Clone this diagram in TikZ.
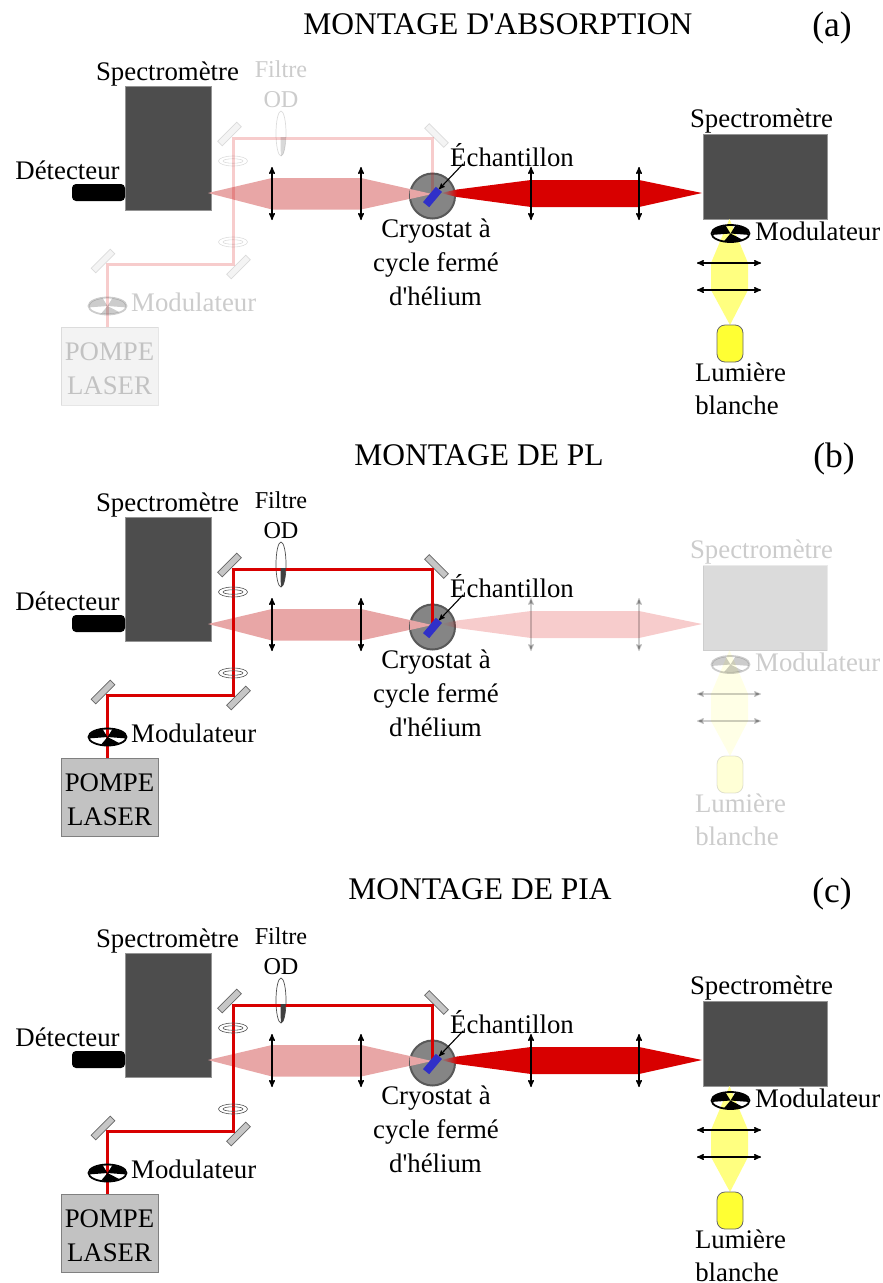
\documentclass[tikz,border=0pt]{standalone}
\usepackage{fontspec}
\newfontfamily\texte{Liberation Serif}
\usetikzlibrary{arrows,shapes.geometric}

\definecolor{spectro}{HTML}{4D4D4D}
\definecolor{pompe}{HTML}{C2C2C2}
\definecolor{rougelaser}{HTML}{D80000}
\definecolor{rosepl}{HTML}{E8A6A6}
\definecolor{jaunefaisceau}{HTML}{FFFF80}
\definecolor{jaunelampe}{HTML}{FFFF33}
\definecolor{gris}{HTML}{858585}
\definecolor{echantillon}{HTML}{3030C8}

\tikzset{
  label/.style={font=\texte\fontsize{26.8}{30}\selectfont, inner sep=0pt, anchor=base},
  petit/.style={font=\texte\fontsize{24.2}{28}\selectfont, inner sep=0pt, anchor=base},
  titre/.style={font=\texte\fontsize{31.5}{34}\selectfont, inner sep=0pt, anchor=base},
  tag/.style={font=\texte\fontsize{35.5}{38}\selectfont, inner sep=0pt, anchor=base},
  boite/.style={rectangle, fill=spectro, draw=spectro!60!white, line width=0.6pt, inner sep=0pt},
  miroir/.style={rectangle, fill=gray!45, draw=black!60, line width=0.7pt, minimum width=27pt, minimum height=6.5pt, inner sep=0pt},
  lentille/.style={<->, >=stealth', black, line width=1.4pt},
  laser/.style={rougelaser, line width=3pt},
}

\newcommand{\hacheur}[3]{
  \node[ellipse, draw=black, line width=1.8pt, minimum width=38pt, minimum height=17pt, inner sep=0pt, #3] (#1) at (#2) {};
  \foreach \a/\d in {-190/85, -310/60, -75/85}
    \fill[black, #3] (#2) -- ++(\a:18.5 and 8) arc[start angle=\a, delta angle=\d, x radius=18.5, y radius=8] -- cycle;
}

% #1 decalage, #2 prefixe, #3 opacite pompe, #4 opacite transmission
\newcommand{\montage}[4]{
  \begin{scope}[shift={(0,#1)}, name prefix=#2-, partpompe/.style={opacity=#3}, parttrans/.style={opacity=#4}]
    \node[boite, minimum width=86pt, minimum height=124pt] (spectroA) at (168,148) {};
    \node[label] (spectroAlabel) at (167.5,80) {Spectromètre};
    \node[rectangle, rounded corners=4pt, fill=black, minimum width=53pt, minimum height=17pt, inner sep=0pt] (detecteur) at (98.5,192.5) {};
    \node[label] (detecteurlabel) at (67.5,179.5) {Détecteur};

    % faisceau de PL
    \fill[rosepl] (208,193) -- (272,178) -- (361,178) -- (432,194) -- (361,209.5) -- (272,209.5) -- cycle;
    \foreach \x/\n in {272/a, 361/b} {
      \coordinate (lens\n h) at (\x,167);
      \coordinate (lens\n b) at (\x,220);
      \draw[lentille] (lens\n h) -- (lens\n b);
    }

    \node[circle, fill=gris, draw=black!65, line width=2pt, minimum size=45pt, inner sep=0pt] (cryostat) at (432.5,196) {};
    \fill[rosepl] (410,189) -- (432,194) -- (410,199) -- cycle;

    % faisceau transmis
    \shade[left color=gris, right color=rougelaser, parttrans] (441,193) -- (457,189.5) -- (457,197) -- cycle;
    \fill[rougelaser, parttrans] (457,189.5) -- (531,180) -- (639,180) -- (702,193) -- (639,207) -- (531,207) -- (457,197) -- cycle;
    \foreach \x/\n in {531/c, 639/d} {
      \coordinate (lens\n h) at (\x,167);
      \coordinate (lens\n b) at (\x,220);
      \draw[lentille, parttrans] (lens\n h) -- (lens\n b);
    }

    \node[boite, minimum width=124pt, minimum height=85pt, parttrans] (spectroB) at (765,177) {};
    \node[label, parttrans] (spectroBlabel) at (761.5,127) {Spectromètre};
    \fill[jaunefaisceau, parttrans] (729.5,219) -- (748,263) -- (748,290) -- (730,325) -- (711,290) -- (711,263) -- cycle;
    \hacheur{hacheurB}{730.5,233.5}{parttrans}
    \node[label, anchor=base west, parttrans] (hacheurBlabel) at (755,240) {Modulateur};
    \foreach \y/\n in {263/e, 290/f} {
      \coordinate (lens\n g) at (697,\y);
      \coordinate (lens\n d) at (761,\y);
      \draw[lentille, parttrans] (lens\n g) -- (lens\n d);
    }
    \node[rectangle, rounded corners=8pt, fill=jaunelampe, draw=black!60, line width=0.8pt, minimum width=26pt, minimum height=37pt, inner sep=0pt, parttrans] (lampe) at (730,343.5) {};
    \node[label, parttrans] (lampelabel) at (740.5,381) {Lumière};
    \node[label, parttrans] (lampelabelb) at (737,414) {blanche};

    % pompe
    \node[rectangle, fill=pompe, draw=black!50, line width=0.6pt, minimum width=97pt, minimum height=78pt, inner sep=0pt, partpompe] (laserpompe) at (109.5,366) {};
    \node[label, partpompe] (laserlabel) at (109.5,360.5) {POMPE};
    \node[label, partpompe] (laserlabelb) at (109.5,394.5) {LASER};
    \coordinate (coinA) at (233,138);
    \coordinate (coinB) at (233,264);
    \coordinate (coinC) at (107.5,264);
    \coordinate (coinD) at (432,138);
    \node[miroir, rotate=45, partpompe] (miroirA) at (229.5,134) {};
    \node[miroir, rotate=45, partpompe] (miroirB) at (238.5,267) {};
    \node[miroir, rotate=45, partpompe] (miroirC) at (103,261) {};
    \node[miroir, rotate=-45, partpompe] (miroirD) at (436.5,135.5) {};
    \node[ellipse, draw=black!70, line width=0.7pt, fill=white, fill opacity=0.2, minimum width=10pt, minimum height=45pt, inner sep=0pt, partpompe] (filtre) at (281,133.5) {};
    \node[petit, partpompe] (filtrelabel) at (281,77) {Filtre};
    \node[petit, partpompe] (odlabel) at (281,107.5) {OD};
    \node[rectangle, inner sep=0pt, minimum size=1pt] (echantillon) at (432,197) {};
    \draw[laser, partpompe] (coinC |- laserpompe.north) -- (coinC) -- (coinB) -- (coinA) -- (coinD) -- (echantillon.north);
    \fill[black!75, partpompe] (280.5,137) -- (285.8,137) .. controls (285.5,146) and (284,156) .. (281,156) .. controls (280.6,150) and (280.5,144) .. cycle;
    \foreach \y/\n in {161/A, 242/B} {
      \node[ellipse, draw=black!70, line width=0.6pt, minimum width=29pt, minimum height=10pt, inner sep=0pt, partpompe] (bague\n) at (233,\y) {};
      \node[ellipse, draw=black!70, line width=0.6pt, minimum width=20pt, minimum height=4.5pt, inner sep=0pt, partpompe] (bague\n i) at (233,\y) {};
    }
    \hacheur{hacheurA}{107.5,306}{partpompe}
    \node[label, anchor=base west, partpompe] (hacheurAlabel) at (131,311) {Modulateur};

    % echantillon
    \node[rectangle, fill=echantillon, minimum width=20pt, minimum height=8pt, inner sep=0pt, rotate=50] (plaque) at (432.5,197) {};
    \node[label] (echantillonlabel) at (512,166.5) {Échantillon};
    \draw[->, >=stealth', black, line width=1.1pt] ([shift={(13,-3)}]echantillonlabel.south west) -- (plaque.east);
    \node[label] (cryostatlabel) at (436,237) {Cryostat à};
    \node[label] (cryostatlabelb) at (436,271) {cycle fermé};
    \node[label] (cryostatlabelc) at (435.5,305) {d'hélium};
  \end{scope}
}

\begin{document}
\begin{tikzpicture}[x=1pt, y=-1pt]
  \useasboundingbox (0,0) rectangle (883,1283);

  \node[titre] (titreA) at (498,34) {MONTAGE D'ABSORPTION};
  \node[tag] (tagA) at (832,36) {(a)};
  \montage{0}{a}{0.2}{1}

  \node[titre] (titreB) at (479,465.5) {MONTAGE DE PL};
  \node[tag] (tagB) at (834,467) {(b)};
  \montage{431}{b}{1}{0.2}

  \node[titre] (titreC) at (480,899.5) {MONTAGE DE PIA};
  \node[tag] (tagC) at (832,902) {(c)};
  \montage{867}{c}{1}{1}
\end{tikzpicture}
\end{document}
